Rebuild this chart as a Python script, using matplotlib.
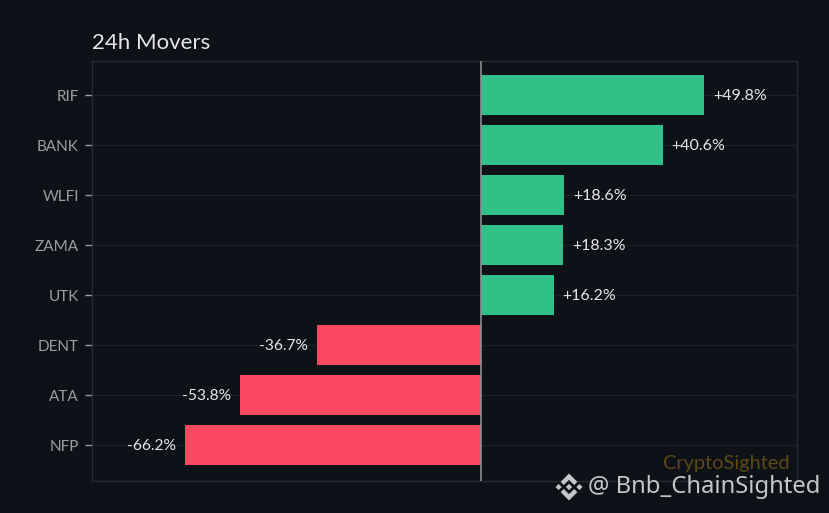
import matplotlib
matplotlib.use("Agg")
import matplotlib.pyplot as plt
from matplotlib.patches import Polygon

# data
symbols = ["RIF", "BANK", "WLFI", "ZAMA", "UTK", "DENT", "ATA", "NFP"]
changes = [49.8, 40.6, 18.6, 18.3, 16.2, -36.7, -53.8, -66.2]

W, H = 829, 513
BG = "#0e1117"
GREEN = "#2fc188"
RED = "#fb4a60"
MARK = "#c4c6c8"

plt.rcParams['font.family'] = ['Lato', 'DejaVu Sans']

fig = plt.figure(figsize=((W + 0.01) / 100, (H + 0.01) / 100), dpi=100, facecolor=BG)
ax = fig.add_axes([92 / W, 1 - 481 / H, (797 - 92) / W, (481 - 61) / H], facecolor=BG)

colors = [GREEN if c > 0 else RED for c in changes]
ax.barh(symbols, changes, height=0.8, color=colors, zorder=3)
ax.axvline(0, color="#8a8d91", lw=1.2, zorder=4)

# value labels next to the bars
for i, c in enumerate(changes):
    if c > 0:
        ax.annotate(f"+{c:.1f}%", (c, i), xytext=(9, -1), textcoords="offset pixels",
                    va="center", ha="left", color="#e6e6e6", fontsize=11.5, zorder=5)
    else:
        ax.annotate(f"{c:.1f}%", (c, i), xytext=(-9, -1), textcoords="offset pixels",
                    va="center", ha="right", color="#e6e6e6", fontsize=11.2, zorder=5)

ax.set_xlim(-86.9, 70.6)
ax.set_ylim(7.72, -0.68)
ax.set_xticks([])
ax.tick_params(axis="y", colors="#9a9da1", labelcolor="#9a9da1", labelsize=11, length=5, width=1, pad=4.4)
ax.grid(axis="y", color="#1c2027", lw=1, zorder=0)
for spine in ax.spines.values():
    spine.set_color("#262a31")
    spine.set_linewidth(1)

ax.set_title("24h Movers", loc="left", color="#e6e6e6", fontsize=16, pad=9)

# faint name inside the plot
ax.text(0.99, 0.041, "CryptoSighted", transform=ax.transAxes, ha="right", va="center",
        color="#5c4a14", fontsize=14.4, zorder=5)

# watermark from the page around the chart
fig.text(588 / W, 1 - 487 / H, "@ Bnb_ChainSighted", color=MARK, fontsize=17.2,
         family=["Noto Sans", "DejaVu Sans"], ha="left", va="center")

# exchange logo, unit shapes scaled around its centre
cx, cy, r = 569, 487, 13.5
top = [(0, -1), (0.62, -0.38), (0.385, -0.145), (0, -0.53), (-0.385, -0.145), (-0.62, -0.38)]
bottom = [(x, -y) for x, y in top]
def diamond(x0, s):
    return [(x0, -s), (x0 + s, 0), (x0, s), (x0 - s, 0)]
for shape in [top, bottom, diamond(0, 0.235), diamond(-0.77, 0.23), diamond(0.77, 0.23)]:
    pts = [((cx + x * r) / W, 1 - (cy + y * r) / H) for x, y in shape]
    fig.add_artist(Polygon(pts, transform=fig.transFigure, facecolor=MARK, edgecolor="none"))

fig.savefig("out.png", dpi=100, facecolor=BG)
